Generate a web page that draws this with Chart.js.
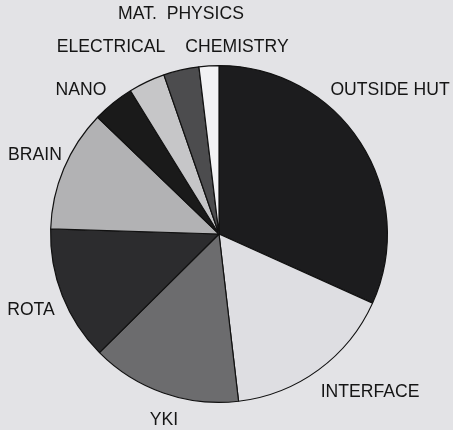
<!DOCTYPE html>
<html>
<head>
<meta charset="utf-8">
<script src="https://cdn.jsdelivr.net/npm/chart.js@4"></script>
<style>
    html, body { margin: 0; padding: 0; background: #e3e3e6; }
    #wrap { width: 453px; height: 430px; position: relative; }
</style>
</head>
<body>
<div id="wrap"><canvas id="pieChart" width="453" height="430"></canvas></div>
<script>
// 各區塊（順時針，從 12 點鐘方向開始）
const categories = ["OUTSIDE HUT", "INTERFACE", "YKI", "ROTA", "BRAIN", "NANO", "ELECTRICAL", "MAT.  PHYSICS", "CHEMISTRY"];
const shares = [31.7, 16.4, 14.4, 12.9, 11.7, 4.0, 3.5, 3.4, 1.9];
const sliceColors = ["#1c1c1e", "#dedee2", "#6c6c6e", "#2c2c2e", "#b2b2b4", "#1a1a1a", "#c6c6c8", "#4c4c4e", "#f2f2f4"];

// 標籤文字中心位置（版面用）
const labelPos = [
    [390, 90], [370, 392], [164, 420], [31, 310], [35, 155],
    [81, 90], [111, 47], [181, 14], [237, 47]
];

const labelPlugin = {
    id: "sliceLabels",
    afterDraw(chart) {
        const ctx = chart.ctx;
        ctx.save();
        ctx.fillStyle = "#151515";
        ctx.font = "17.6px 'Liberation Sans', Arial, sans-serif";
        ctx.textAlign = "center";
        ctx.textBaseline = "middle";
        chart.data.labels.forEach((lbl, i) => {
            ctx.fillText(lbl, labelPos[i][0], labelPos[i][1]);
        });
        ctx.restore();
    }
};

new Chart(document.getElementById("pieChart").getContext("2d"), {
    type: "pie",
    data: {
        labels: categories,
        datasets: [{
            data: shares,
            backgroundColor: sliceColors,
            borderColor: "#111",
            borderWidth: 1.2
        }]
    },
    options: {
        responsive: false,
        animation: false,
        layout: { padding: { left: 50, right: 65, top: 65, bottom: 27 } },
        plugins: {
            legend: { display: false },
            tooltip: { enabled: false }
        }
    },
    plugins: [labelPlugin]
});
</script>
</body>
</html>
